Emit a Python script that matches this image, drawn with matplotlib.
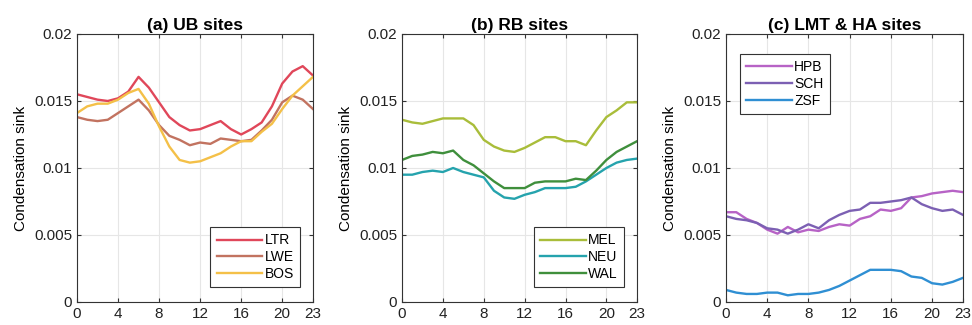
import matplotlib
matplotlib.use('Agg')
import matplotlib.pyplot as plt

plt.rcParams['font.family'] = ['Liberation Sans', 'DejaVu Sans']

hours = list(range(24))

# (a) UB sites
ltr = [0.0155, 0.0153, 0.0151, 0.0150, 0.0152, 0.0157, 0.0168, 0.0160, 0.0149, 0.0138, 0.0132, 0.0128,
       0.0129, 0.0132, 0.0135, 0.0129, 0.0125, 0.0129, 0.0134, 0.0146, 0.0163, 0.0172, 0.0176, 0.0169]
lwe = [0.0138, 0.0136, 0.0135, 0.0136, 0.0141, 0.0146, 0.0151, 0.0143, 0.0132, 0.0124, 0.0121, 0.0117,
       0.0119, 0.0118, 0.0122, 0.0121, 0.0120, 0.0121, 0.0128, 0.0136, 0.0149, 0.0154, 0.0151, 0.0144]
bos = [0.0141, 0.0146, 0.0148, 0.0148, 0.0151, 0.0156, 0.0159, 0.0148, 0.0131, 0.0116, 0.0106, 0.0104,
       0.0105, 0.0108, 0.0111, 0.0116, 0.0120, 0.0120, 0.0127, 0.0133, 0.0144, 0.0154, 0.0161, 0.0168]

# (b) RB sites
mel = [0.0136, 0.0134, 0.0133, 0.0135, 0.0137, 0.0137, 0.0137, 0.0132, 0.0121, 0.0116, 0.0113, 0.0112,
       0.0115, 0.0119, 0.0123, 0.0123, 0.0120, 0.0120, 0.0117, 0.0128, 0.0138, 0.0143, 0.0149, 0.0149]
neu = [0.0095, 0.0095, 0.0097, 0.0098, 0.0097, 0.0100, 0.0097, 0.0095, 0.0093, 0.0083, 0.0078, 0.0077,
       0.0080, 0.0082, 0.0085, 0.0085, 0.0085, 0.0086, 0.0090, 0.0095, 0.0100, 0.0104, 0.0106, 0.0107]
wal = [0.0106, 0.0109, 0.0110, 0.0112, 0.0111, 0.0113, 0.0106, 0.0102, 0.0096, 0.0090, 0.0085, 0.0085,
       0.0085, 0.0089, 0.0090, 0.0090, 0.0090, 0.0092, 0.0091, 0.0098, 0.0106, 0.0112, 0.0116, 0.0120]

# (c) LMT & HA sites
hpb = [0.0067, 0.0067, 0.0062, 0.0059, 0.0054, 0.0051, 0.0056, 0.0052, 0.0054, 0.0053, 0.0056, 0.0058,
       0.0057, 0.0062, 0.0064, 0.0069, 0.0068, 0.0070, 0.0078, 0.0079, 0.0081, 0.0082, 0.0083, 0.0082]
sch = [0.0064, 0.0062, 0.0061, 0.0059, 0.0055, 0.0054, 0.0051, 0.0054, 0.0058, 0.0055, 0.0061, 0.0065,
       0.0068, 0.0069, 0.0074, 0.0074, 0.0075, 0.0076, 0.0078, 0.0073, 0.0070, 0.0068, 0.0069, 0.0065]
zsf = [0.0009, 0.0007, 0.0006, 0.0006, 0.0007, 0.0007, 0.0005, 0.0006, 0.0006, 0.0007, 0.0009, 0.0012,
       0.0016, 0.0020, 0.0024, 0.0024, 0.0024, 0.0023, 0.0019, 0.0018, 0.0014, 0.0013, 0.0015, 0.0018]

panels = [
    ('(a) UB sites', [('LTR', ltr, '#e0475a'), ('LWE', lwe, '#c27360'), ('BOS', bos, '#f4c048')],
     'lower right', (0.945, 0.055)),
    ('(b) RB sites', [('MEL', mel, '#a9bd3a'), ('NEU', neu, '#25a3ad'), ('WAL', wal, '#3f8f3c')],
     'lower right', (0.945, 0.055)),
    ('(c) LMT & HA sites', [('HPB', hpb, '#b763c6'), ('SCH', sch, '#7c60b3'), ('ZSF', zsf, '#2f8fd3')],
     'upper left', (0.059, 0.925)),
]
lefts = [0.0792, 0.4136, 0.7469]
widths = [0.2428, 0.2418, 0.2438]

fig = plt.figure(figsize=(9.72, 3.25), dpi=100)
for (title, series, loc, anchor), left, w in zip(panels, lefts, widths):
    ax = fig.add_axes([left, 0.0708, w, 0.8246])
    for name, vals, col in series:
        ax.plot(hours, vals, color=col, linewidth=1.7, label=name)
    ax.set_xlim(0, 23)
    ax.set_ylim(0, 0.02)
    ax.set_xticks([0, 4, 8, 12, 16, 20, 23])
    ax.set_yticks([0, 0.005, 0.01, 0.015, 0.02])
    ax.set_yticklabels(['0', '0.005', '0.01', '0.015', '0.02'])
    ax.tick_params(direction='in', labelsize=11, top=True, right=True, length=3, color='#333333',
                   labelcolor='#222222')
    ax.grid(True, color='#e6e6e6', linewidth=0.8)
    ax.set_axisbelow(True)
    for s in ax.spines.values():
        s.set_color('#333333')
        s.set_linewidth(0.8)
    ax.set_title(title, fontsize=12.5, fontweight='bold', pad=3)
    ax.set_ylabel('Condensation sink', fontsize=11, labelpad=4)
    leg = ax.legend(loc=loc, bbox_to_anchor=anchor, fontsize=10, handlelength=3.3, handletextpad=0.15,
                    fancybox=False, framealpha=1, edgecolor='#333333', borderaxespad=0,
                    labelspacing=0.2, borderpad=0.45)
    leg.get_frame().set_linewidth(0.8)

fig.savefig('out.png', dpi=100)
